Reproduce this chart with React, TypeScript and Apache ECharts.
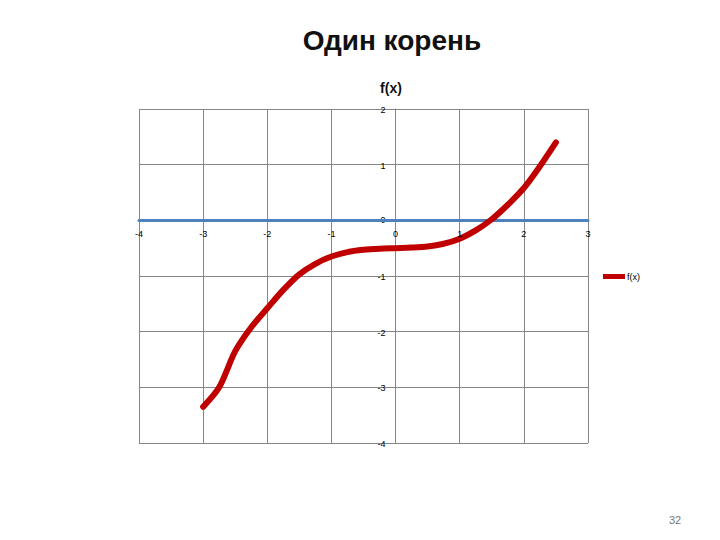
import React, { useEffect, useRef } from "react";
import * as echarts from "echarts";

const xValues = [-3, -2.75, -2.5, -2.25, -2, -1.75, -1.5, -1.25, -1, -0.75, -0.5, -0.25, 0, 0.25, 0.5, 0.75, 1, 1.25, 1.5, 1.75, 2, 2.25, 2.5];
const fValues = [-3.35, -3.0, -2.35, -1.92, -1.58, -1.25, -0.97, -0.78, -0.65, -0.57, -0.53, -0.51, -0.5, -0.49, -0.47, -0.42, -0.33, -0.18, 0.02, 0.28, 0.58, 0.97, 1.4];
const xTicks = [-4, -3, -2, -1, 0, 1, 2, 3];
const yTicks = [-4, -3, -2, -1, 0, 1, 2];
const seriesName = "f(x)";
const slideTitle = "Один корень";
const chartTitle = "f(x)";
const pageNumber = "32";

export default function App() {
  const ref = useRef<HTMLDivElement>(null);
  useEffect(() => {
    if (!ref.current) return;
    const chart = echarts.init(ref.current, null, { renderer: "svg" });
    const data = xValues.map((x, i) => [x, fValues[i]]);
    const fontFamily = "Liberation Sans, DejaVu Sans, sans-serif";
    chart.setOption({
      animation: false,
      backgroundColor: "#fff",
      title: [
        {
          text: slideTitle,
          left: 387,
          top: 21,
          textAlign: "center",
          textStyle: { fontFamily, fontWeight: "bold", fontSize: 28, color: "#111" },
        },
        {
          text: chartTitle,
          left: 386,
          top: 76,
          textAlign: "center",
          textStyle: { fontFamily, fontWeight: "bold", fontSize: 14, color: "#111" },
        },
        {
          text: pageNumber,
          left: 664,
          top: 509,
          textStyle: { fontFamily, fontWeight: "normal", fontSize: 11, color: "#777" },
        },
      ],
      legend: {
        left: 598,
        top: 267,
        data: [seriesName],
        itemWidth: 22,
        itemHeight: 5,
        itemGap: 2,
        icon: "rect",
        textStyle: { fontFamily, fontSize: 9, color: "#000", padding: [0, 0, 0, -3] },
      },
      grid: { left: 139, right: 132, top: 109, bottom: 97, containLabel: false },
      xAxis: {
        type: "value",
        min: -4,
        max: 3,
        interval: 1,
        axisLine: { show: true, onZero: true, lineStyle: { color: "#4f81bd", width: 3 } },
        axisTick: { show: false },
        axisLabel: { show: false },
        splitLine: { show: true, lineStyle: { color: "#868686", width: 1 } },
      },
      yAxis: {
        type: "value",
        min: -4,
        max: 2,
        interval: 1,
        axisLine: { show: true, onZero: true, lineStyle: { color: "#868686", width: 1 } },
        axisTick: { show: false },
        axisLabel: { show: false },
        splitLine: { show: true, lineStyle: { color: "#868686", width: 1 } },
      },
      series: [
        {
          name: seriesName,
          type: "line",
          data,
          smooth: 0.3,
          showSymbol: false,
          symbol: "none",
          lineStyle: { color: "#c00000", width: 6, cap: "round" },
          itemStyle: { color: "#c00000" },
          z: 3,
        },
      ],
    });

    const labels: any[] = [];
    const labelStyle = { fontFamily, fontSize: 9, fill: "#000" };
    xTicks.forEach((t) => {
      const p = chart.convertToPixel({ gridIndex: 0 }, [t, 0]) as number[];
      labels.push({
        type: "text",
        x: p[0],
        y: p[1] + 14,
        z: 10,
        style: { ...labelStyle, text: String(t), align: "center", verticalAlign: "middle" },
      });
    });
    yTicks.forEach((t) => {
      const p = chart.convertToPixel({ gridIndex: 0 }, [0, t]) as number[];
      labels.push({
        type: "text",
        x: p[0] - 10,
        y: p[1] + (t === 0 ? 0 : 1),
        z: t === 0 ? 0 : 10,
        style: { ...labelStyle, text: String(t), align: "right", verticalAlign: "middle" },
      });
    });
    chart.setOption({ graphic: labels });

    return () => chart.dispose();
  }, []);
  return <div ref={ref} style={{ position: "fixed", left: 0, top: 0, width: 720, height: 540 }} />;
}
